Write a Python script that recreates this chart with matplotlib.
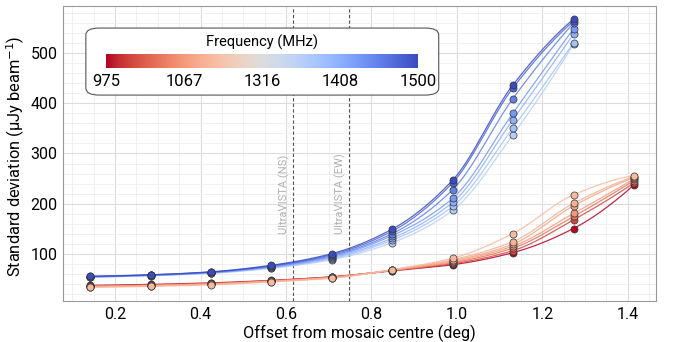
import numpy as np
import matplotlib
matplotlib.use("Agg")
import matplotlib.pyplot as plt
from matplotlib.patches import FancyBboxPatch
from matplotlib.ticker import MultipleLocator

plt.rcParams['font.family'] = ['Roboto', 'DejaVu Sans']

# offsets from mosaic centre (deg)
offset = [0.141, 0.283, 0.424, 0.566, 0.707, 0.849, 0.990, 1.131, 1.273, 1.414]

# high-frequency subbands (blue group), lightest -> darkest
blue_freqs = [1362, 1385, 1408, 1431, 1454, 1477, 1500]
blue_std = [
    [54.0, 57.0, 62.0, 72, 89, 123, 187, 337, 517],
    [54.5, 57.5, 62.5, 73, 91, 128, 195, 351, 520],
    [55.0, 58.0, 63.0, 74, 93, 132, 203, 367, 537],
    [55.0, 58.0, 63.5, 75, 95, 137, 211, 380, 548],
    [55.5, 58.5, 64.0, 76, 97, 141, 228, 409, 559],
    [56.0, 59.0, 64.5, 77, 99, 146, 242, 430, 563],
    [56.0, 59.0, 65.0, 78, 101, 150, 247, 436, 567],
]

# low-frequency subbands (red group), darkest -> lightest
red_freqs = [975, 1006, 1036, 1067, 1098, 1128, 1159]
red_std = [
    [38.0, 40.0, 43.0, 48.0, 55, 67.0, 79, 103, 151, 237],
    [37.0, 39.0, 42.0, 47.5, 55, 67.5, 81, 107, 168, 241],
    [36.5, 38.5, 41.5, 47.0, 54, 68.0, 83, 112, 175, 246],
    [36.0, 38.0, 41.0, 46.5, 54, 68.0, 85, 116, 181, 249],
    [35.5, 37.5, 40.5, 46.0, 53, 68.5, 87, 120, 196, 252],
    [35.0, 37.0, 40.0, 45.5, 53, 69.0, 89, 125, 201, 254],
    [34.0, 36.0, 39.0, 45.0, 52, 69.5, 92, 141, 218, 256],
]

cbar_ticks = [975, 1067, 1316, 1408, 1500]
ultravista = {'UltraVISTA (NS)': 0.617, 'UltraVISTA (EW)': 0.748}

cmap = plt.get_cmap('coolwarm_r')


def freq_colour(f):
    pos = np.interp(f, cbar_ticks, np.linspace(0, 1, len(cbar_ticks)))
    return cmap(pos)


# monotone cubic (pchip) for the smooth curves
def pchip(x, y, xn):
    x = np.asarray(x, float)
    y = np.asarray(y, float)
    h = np.diff(x)
    d = np.diff(y) / h
    n = len(x)
    m = np.zeros(n)
    for k in range(1, n - 1):
        if d[k - 1] * d[k] > 0:
            w1 = 2 * h[k] + h[k - 1]
            w2 = h[k] + 2 * h[k - 1]
            m[k] = (w1 + w2) / (w1 / d[k - 1] + w2 / d[k])

    def end(h0, h1, d0, d1):
        s = ((2 * h0 + h1) * d0 - h0 * d1) / (h0 + h1)
        if np.sign(s) != np.sign(d0):
            return 0.0
        if np.sign(d0) != np.sign(d1) and abs(s) > 3 * abs(d0):
            return 3 * d0
        return s
    m[0] = end(h[0], h[1], d[0], d[1])
    m[-1] = end(h[-1], h[-2], d[-1], d[-2])
    i = np.clip(np.searchsorted(x, xn) - 1, 0, n - 2)
    t = (xn - x[i]) / h[i]
    h00 = 2 * t**3 - 3 * t**2 + 1
    h10 = t**3 - 2 * t**2 + t
    h01 = -2 * t**3 + 3 * t**2
    h11 = t**3 - t**2
    return h00 * y[i] + h10 * h[i] * m[i] + h01 * y[i + 1] + h11 * h[i] * m[i + 1]


fig = plt.figure(figsize=(6.76, 3.42), dpi=100)
ax = fig.add_axes([0.0932, 0.1199, 0.8772, 0.8626])

groups = [(red_freqs, red_std), (blue_freqs, blue_std)]
for freqs, stds in groups:
    for f, s in zip(freqs, stds):
        xs = offset[:len(s)]
        xn = np.linspace(xs[0], xs[-1], 300)
        c = freq_colour(f)
        ax.plot(xn, pchip(xs, s, xn), color=c, lw=0.9, alpha=0.85, zorder=3)
        ax.scatter(xs, s, s=26, color=c, edgecolor='#333333', linewidth=0.5, zorder=4)

for label, xv in ultravista.items():
    ax.axvline(xv, color='#555555', ls=(0, (3, 2)), lw=0.8, zorder=2)
    ax.text(xv - 0.008, 140, label, rotation=90, ha='right', va='bottom',
            fontsize=8, color='#b0b0b0')

ax.set_xlim(0.078, 1.466)
ax.set_ylim(7, 593)
ax.xaxis.set_major_locator(MultipleLocator(0.2))
ax.xaxis.set_minor_locator(MultipleLocator(0.05))
ax.yaxis.set_major_locator(MultipleLocator(100))
ax.yaxis.set_minor_locator(MultipleLocator(20))
ax.grid(which='major', color='#dcdcdc', lw=0.8, zorder=0)
ax.grid(which='minor', color='#eeeeee', lw=0.6, zorder=0)
ax.set_axisbelow(True)
ax.tick_params(which='both', length=0, labelsize=11.5, pad=4)
for sp in ax.spines.values():
    sp.set_color('#999999')
    sp.set_linewidth(0.8)
ax.set_xlabel('Offset from mosaic centre (deg)', fontsize=11.7, labelpad=2)
ax.set_ylabel('Standard deviation (µJy beam$^{-1}$)', fontsize=11.8)
ax.yaxis.set_label_coords(-0.06, 0.49)

# colorbar "legend" box
box = FancyBboxPatch((0.127, 0.722), 0.522, 0.196, transform=fig.transFigure,
                     boxstyle='round,pad=0.0,rounding_size=0.02',
                     facecolor='white', edgecolor='#555555', lw=0.8, zorder=10)
fig.patches.append(box)
cax = fig.add_axes([0.157, 0.801, 0.4615, 0.041])
cax.set_zorder(11)
grad = np.linspace(0, 1, 256)[None, :]
cax.imshow(grad, aspect='auto', cmap=cmap, extent=(0, 1, 0, 1))
cax.set_xticks(np.linspace(0, 1, len(cbar_ticks)))
cax.set_xticklabels([str(t) for t in cbar_ticks])
cax.set_yticks([])
cax.tick_params(length=0, labelsize=12, pad=4)
for sp in cax.spines.values():
    sp.set_visible(False)
cax.set_title('Frequency (MHz)', fontsize=10.5, pad=5)

fig.savefig('out.png', dpi=100)
